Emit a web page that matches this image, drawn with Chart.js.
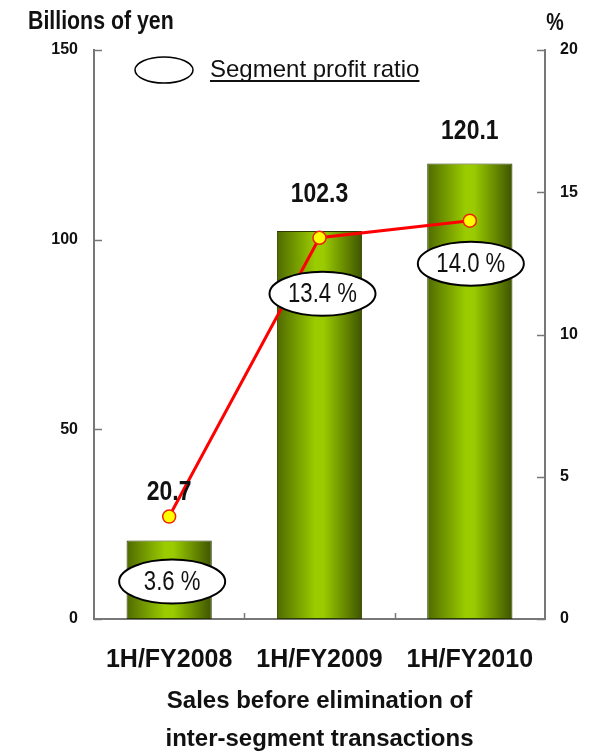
<!DOCTYPE html>
<html>
<head>
<meta charset="utf-8">
<script src="https://cdn.jsdelivr.net/npm/chart.js@4"></script>
<style>
  html, body { margin: 0; padding: 0; background: #ffffff; }
  canvas { display: block; }
</style>
</head>
<body>
<canvas id="chart" width="594" height="753"></canvas>
<script>
// Half-year sales (billions of yen) and segment profit ratio (%)
const categories = ['1H/FY2008', '1H/FY2009', '1H/FY2010'];
const sales = [20.7, 102.3, 120.1];
const profitRatio = [3.6, 13.4, 14.0];
const salesTicks = [0, 50, 100, 150];
const ratioTicks = [0, 5, 10, 15, 20];

const FONT = "'Liberation Sans', Arial, sans-serif";
const INK = '#111111';
const AXIS = '#777777';
const NARROW = 0.82; // horizontal squeeze for condensed-looking captions

// Horizontal olive-green gradient across each bar
function barGradient(ctx) {
  const chart = ctx.chart;
  const x = chart.scales.x;
  const area = chart.chartArea;
  if (!x || !area || ctx.dataIndex === undefined) return '#88b000';
  const center = x.getPixelForValue(ctx.dataIndex);
  const half = (x.width / categories.length) * 0.567 / 2;
  const g = chart.ctx.createLinearGradient(center - half, 0, center + half, 0);
  g.addColorStop(0, '#4f6a00');
  g.addColorStop(0.45, '#9acc00');
  g.addColorStop(0.55, '#99cb00');
  g.addColorStop(1, '#3e5400');
  return g;
}

function narrowText(ctx, text, x, y, font, align) {
  ctx.save();
  ctx.font = font;
  ctx.textAlign = align;
  ctx.textBaseline = 'middle';
  ctx.translate(x, y);
  ctx.scale(NARROW, 1);
  ctx.fillText(text, 0, 0);
  ctx.restore();
}

// Short inward tick marks on both value axes and between categories
const innerTicks = {
  id: 'innerTicks',
  afterDraw(chart) {
    const { ctx, chartArea: a, scales } = chart;
    ctx.save();
    ctx.strokeStyle = AXIS;
    ctx.lineWidth = 1.5;
    ctx.beginPath();
    scales.y.ticks.forEach(t => {
      const py = Math.round(scales.y.getPixelForValue(t.value)) + 0.5;
      ctx.moveTo(a.left, py); ctx.lineTo(a.left + 8, py);
    });
    scales.y1.ticks.forEach(t => {
      const py = Math.round(scales.y1.getPixelForValue(t.value)) + 0.5;
      ctx.moveTo(a.right - 8, py); ctx.lineTo(a.right, py);
    });
    for (let i = 0; i < categories.length - 1; i++) {
      const px = Math.round(scales.x.getPixelForValue(i + 0.5)) + 0.5;
      ctx.moveTo(px, a.bottom); ctx.lineTo(px, a.bottom - 6);
    }
    ctx.stroke();
    ctx.restore();
  }
};

// Axis captions, sales values above bars, ratio values in ellipses, legend
const annotations = {
  id: 'annotations',
  afterDatasetsDraw(chart, args, opts) {
    const { ctx } = chart;
    ctx.save();
    ctx.fillStyle = INK;

    // axis captions
    narrowText(ctx, 'Billions of yen', 28, 22, 'bold 26px ' + FONT, 'left');
    narrowText(ctx, '%', 555, 23, 'bold 24px ' + FONT, 'center');

    // sales values above the bars
    const barMeta = chart.getDatasetMeta(0);
    barMeta.data.forEach((bar, i) => {
      narrowText(ctx, sales[i].toFixed(1), bar.x, bar.y - opts.valueGap[i], 'bold 28px ' + FONT, 'center');
    });

    // profit ratio values in ellipses below the points
    const lineMeta = chart.getDatasetMeta(1);
    lineMeta.data.forEach((pt, i) => {
      const cx = pt.x + opts.ratioShift[i];
      const cy = pt.y + opts.ratioGap[i];
      ctx.beginPath();
      ctx.ellipse(cx, cy, 53, 22, 0, 0, Math.PI * 2);
      ctx.fillStyle = '#ffffff';
      ctx.fill();
      ctx.lineWidth = 2;
      ctx.strokeStyle = '#000000';
      ctx.stroke();
      ctx.fillStyle = INK;
      narrowText(ctx, profitRatio[i].toFixed(1) + ' %', cx, cy + 1, '27px ' + FONT, 'center');
    });

    // legend: open ellipse + underlined series name
    const label = chart.data.datasets[1].label;
    ctx.beginPath();
    ctx.ellipse(164, 70, 29, 13, 0, 0, Math.PI * 2);
    ctx.lineWidth = 1.5;
    ctx.strokeStyle = '#000000';
    ctx.stroke();
    ctx.font = '24px ' + FONT;
    ctx.textAlign = 'left';
    ctx.textBaseline = 'alphabetic';
    ctx.fillStyle = INK;
    ctx.fillText(label, 210, 77);
    const w = ctx.measureText(label).width;
    ctx.fillRect(210, 80, w, 2);

    ctx.restore();
  }
};

new Chart(document.getElementById('chart'), {
  data: {
    labels: categories,
    datasets: [
      {
        type: 'bar',
        label: 'Sales before elimination of inter-segment transactions',
        data: sales,
        yAxisID: 'y',
        order: 2,
        backgroundColor: barGradient,
        borderColor: '#2c3a00',
        borderWidth: 1,
        borderSkipped: false,
        categoryPercentage: 1,
        barPercentage: 0.567
      },
      {
        type: 'line',
        label: 'Segment profit ratio',
        data: profitRatio,
        yAxisID: 'y1',
        order: 1,
        borderColor: '#ff0000',
        borderWidth: 3,
        pointRadius: 6.5,
        pointBackgroundColor: '#ffff00',
        pointBorderColor: '#ee2200',
        pointBorderWidth: 1.5,
        tension: 0
      }
    ]
  },
  options: {
    responsive: false,
    animation: false,
    layout: { padding: { top: 50, left: 0, right: 0, bottom: 0 } },
    plugins: {
      legend: { display: false },
      tooltip: { enabled: false },
      annotations: {
        valueGap: [48, 37, 32],
        ratioGap: [65, 56, 43],
        ratioShift: [3, 3, 1]
      }
    },
    scales: {
      x: {
        offset: true,
        grid: { display: false, drawTicks: false },
        border: { display: true, color: AXIS, width: 2 },
        ticks: { color: INK, font: { family: FONT, size: 25, weight: 'bold' }, padding: 26 },
        title: {
          display: true,
          text: ['Sales before elimination of', 'inter-segment transactions'],
          color: INK,
          font: { family: FONT, size: 24, weight: 'bold', lineHeight: '38px' },
          padding: { top: 0, bottom: -5 }
        },
        afterFit(s) { s.height = 134; }
      },
      y: {
        position: 'left',
        min: 0, max: 150,
        afterBuildTicks(s) { s.ticks = salesTicks.map(v => ({ value: v })); },
        grid: { display: false, drawTicks: false },
        border: { display: true, color: AXIS, width: 2 },
        ticks: { color: INK, font: { family: FONT, size: 16, weight: 'bold' }, padding: 16 },
        afterFit(s) { s.width = 94; }
      },
      y1: {
        position: 'right',
        min: 0, max: 20,
        afterBuildTicks(s) { s.ticks = ratioTicks.map(v => ({ value: v })); },
        grid: { display: false, drawTicks: false },
        border: { display: true, color: AXIS, width: 2 },
        ticks: { color: INK, font: { family: FONT, size: 16, weight: 'bold' }, padding: 15 },
        afterFit(s) { s.width = 49; }
      }
    }
  },
  plugins: [innerTicks, annotations]
});
</script>
</body>
</html>
